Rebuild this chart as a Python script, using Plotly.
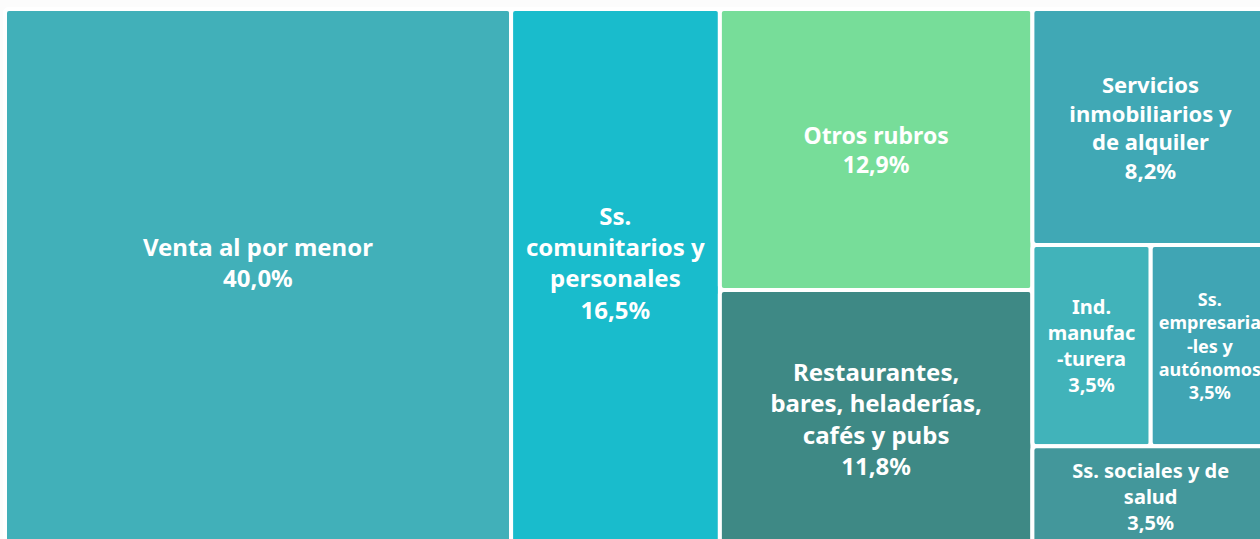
import plotly.graph_objects as go

# Rubros y participación (%)
rubros = [
    "Venta al por menor",
    "Ss.<br>comunitarios y<br>personales",
    "Otros rubros",
    "Restaurantes,<br>bares, heladerías,<br>cafés y pubs",
    "Servicios<br>inmobiliarios y<br>de alquiler",
    "Ind.<br>manufac<br>-turera",
    "Ss.<br>empresaria<br>-les y<br>autónomos",
    "Ss. sociales y de<br>salud",
]
porcentajes = [40.0, 16.5, 12.9, 11.8, 8.2, 3.5, 3.5, 3.5]

colores = ["#41b0b9", "#19bccc", "#77dd99", "#3e8985",
           "#40a8b5", "#41b3ba", "#40a5b4", "#43979b"]
tam_texto = [24, 24, 23, 24, 22, 20, 18, 20]

# en las dos primeras cajas el texto va un poco más arriba
plantilla = "%{label}<br>%{value:.1f}%"
plantillas = [plantilla + "<br>&nbsp;"] * 2 + [plantilla] * 6

# raíz explícita (invisible) para poder dar un tamaño de letra por caja
raiz = "Total"
fig = go.Figure(go.Treemap(
    labels=[raiz] + rubros,
    parents=[""] + [raiz] * len(rubros),
    values=[0] + porcentajes,
    sort=True,
    texttemplate=[""] + plantillas,
    textposition="middle center",
    textfont=dict(family="Noto Sans", size=[10] + tam_texto, color="white", weight="bold"),
    marker=dict(colors=["#fcfcfc"] + colores, line=dict(color="white", width=4), cornerradius=4,
                pad=dict(t=0, l=0, r=0, b=0)),
    tiling=dict(packing="binary", pad=0),
    pathbar=dict(visible=False),
    hoverinfo="label+value",
))

fig.update_layout(
    width=1269,
    height=547,
    margin=dict(l=5, r=0, t=9, b=0),
    paper_bgcolor="#fcfcfc",
    separators=",.",
    showlegend=False,
)

fig.write_html(
    "out.html",
    config={"displayModeBar": False},
    post_script="document.documentElement.style.overflow='hidden';"
                "document.body.style.overflow='hidden';document.body.style.margin='0';",
)
